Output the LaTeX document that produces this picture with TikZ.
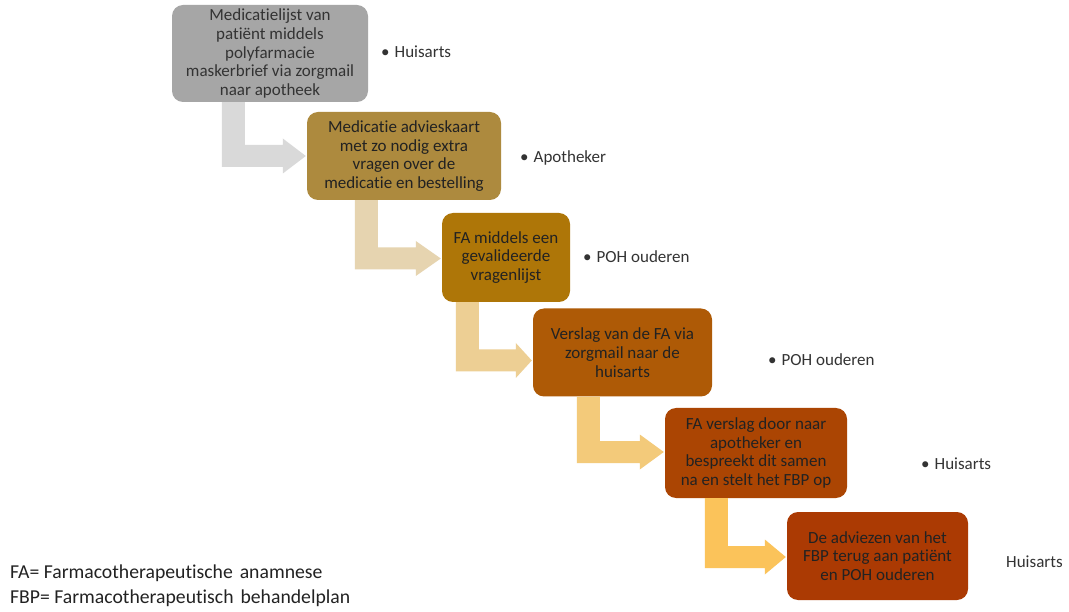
\documentclass[tikz,border=0pt]{standalone}
\usepackage{fontspec}
\setmainfont{Carlito}[Ligatures={NoCommon}]
\usetikzlibrary{calc}
\definecolor{cA}{HTML}{A6A6A6}
\definecolor{cB}{HTML}{AD8A3E}
\definecolor{cC}{HTML}{AE7608}
\definecolor{cD}{HTML}{AE5A06}
\definecolor{cE}{HTML}{AB4503}
\definecolor{cF}{HTML}{AB3A03}
\definecolor{aA}{HTML}{D9D9D9}
\definecolor{aB}{HTML}{E6D4B0}
\definecolor{aC}{HTML}{EDCF94}
\definecolor{aD}{HTML}{F3CA7A}
\definecolor{aE}{HTML}{FBC35A}
\definecolor{txt}{HTML}{222222}
\definecolor{lbl}{HTML}{333333}
\tikzset{
  stepbox/.style={rounded corners=11pt, inner sep=0pt, align=center, text=txt,
    font=\fontsize{17}{18.7}\selectfont},
  rolelabel/.style={anchor=west, inner sep=0pt, text=lbl, font=\fontsize{17}{20}\selectfont},
  legendtext/.style={anchor=west, inner sep=0pt, text=txt, font=\fontsize{19.7}{24}\selectfont}
}
% #1 from, #2 to, #3 stem offset, #4 head length, #5 bar dy, #6 colour
\newcommand\bentarrow[6]{%
  \fill[#6] let \p1=($(#1.south west)+(#3pt,0)$), \p2=($(#2.west)+(-1pt,-#5pt)$) in
    (\x1,\y1) -- (\x1+23pt,\y1) -- (\x1+23pt,\y2+11pt) -- (\x2-#4pt,\y2+11pt)
    -- (\x2-#4pt,\y2+17.5pt) -- (\x2,\y2) -- (\x2-#4pt,\y2-17.5pt)
    -- (\x2-#4pt,\y2-11pt) -- (\x1,\y2-11pt) -- cycle;}
\begin{document}
\begin{tikzpicture}[x=1pt,y=-1pt]
\useasboundingbox[fill=white] (0,0) rectangle (1069,612);

\node[stepbox, fill=cA, text=black!80, minimum width=196pt, minimum height=97pt] (b1) at (270,53.5)
  {Medicatielijst van\\patiënt middels\\polyfarmacie\\maskerbrief via zorgmail\\naar apotheek};
\node[stepbox, fill=cB, minimum width=194pt, minimum height=88pt] (b2) at (404,156)
  {Medicatie advieskaart\\met zo nodig extra\\vragen over de\\medicatie en bestelling};
\node[stepbox, fill=cC, minimum width=128pt, minimum height=89pt] (b3) at (506,257.5)
  {FA middels een\\gevalideerde\\vragenlijst};
\node[stepbox, fill=cD, minimum width=179pt, minimum height=88pt] (b4) at (622.5,352.5)
  {Verslag van de FA via\\zorgmail naar de\\huisarts};
\node[stepbox, fill=cE, minimum width=182pt, minimum height=90pt] (b5) at (756,453)
  {FA verslag door naar\\apotheker en\\bespreekt dit samen\\na en stelt het FBP op};
\node[stepbox, fill=cF, minimum width=181pt, minimum height=88pt] (b6) at (877.5,556)
  {De adviezen van het\\FBP terug aan patiënt\\en POH ouderen};

\bentarrow{b1}{b2}{50}{23}{0}{aA}
\bentarrow{b2}{b3}{48}{25}{1}{aB}
\bentarrow{b3}{b4}{14}{16}{8}{aC}
\bentarrow{b4}{b5}{44}{24}{-1}{aD}
\bentarrow{b5}{b6}{40}{21}{1}{aE}

\node[rolelabel] (r1) at (381,52) {•\hspace{5pt}Huisarts};
\node[rolelabel] (r2) at (520,158) {•\hspace{5pt}Apotheker};
\node[rolelabel] (r3) at (583,257) {•\hspace{5pt}POH ouderen};
\node[rolelabel] (r4) at (768,360) {•\hspace{5pt}POH ouderen};
\node[rolelabel] (r5) at (921,464) {•\hspace{5pt}Huisarts};
\node[rolelabel] (r6) at (1006,562) {Huisarts};

\node[legendtext] (l1) at (10,573) {FA= Farmacotherapeutische\hspace{7pt}anamnese};
\node[legendtext] (l2) at (10,598) {FBP= Farmacotherapeutisch\hspace{7pt}behandelplan};
\end{tikzpicture}
\end{document}
